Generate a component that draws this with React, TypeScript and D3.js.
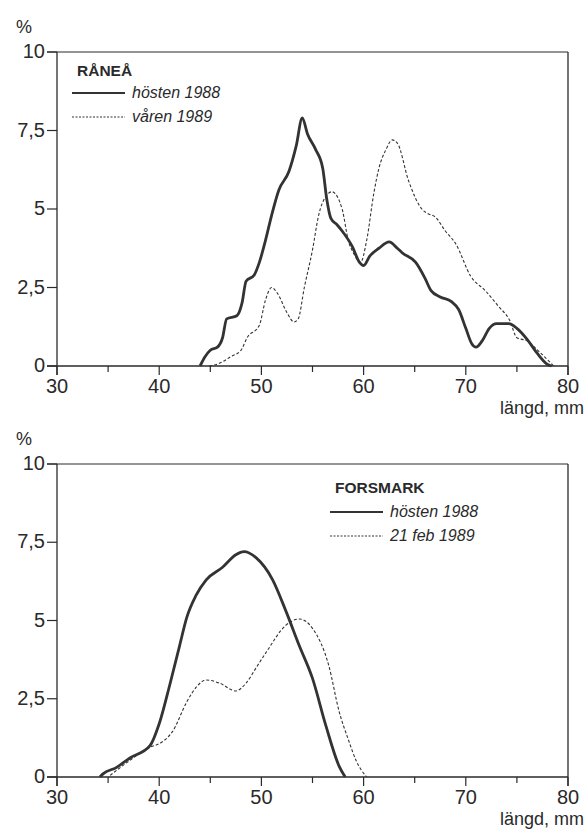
import React from "react";
import * as d3 from "d3";

// ---------- DATA ----------
const xTicks = [30, 40, 50, 60, 70, 80];
const xMinorTicks = [35, 45, 55, 65, 75];
const yTicks = [0, 2.5, 5, 7.5, 10];
const yTickLabels = ["0", "2,5", "5", "7,5", "10"];

// Råneå, hösten 1988 (solid)
const raneaHostX = [44.0, 44.5, 45.0, 45.7, 46.2, 46.6, 47.6, 48.1, 48.5, 49.3, 49.8, 50.4, 51.0, 51.7, 52.7, 53.4, 54.0, 54.5, 55.3, 56.0, 56.4, 56.8, 57.4, 57.9, 58.9, 59.6, 60.0, 60.6, 61.5, 62.5, 63.3, 63.8, 65.1, 66.0, 66.6, 67.5, 68.6, 69.3, 70.0, 70.6, 71.0, 71.6, 72.3, 73.0, 74.2, 75.0, 76.0, 77.0, 78.0, 78.4];
const raneaHostY = [0, 0.3, 0.5, 0.6, 0.9, 1.5, 1.6, 2.0, 2.7, 2.9, 3.3, 4.0, 4.8, 5.6, 6.2, 7.0, 7.9, 7.4, 6.9, 6.3, 5.3, 4.7, 4.5, 4.3, 3.8, 3.3, 3.2, 3.5, 3.75, 3.95, 3.75, 3.6, 3.3, 2.8, 2.4, 2.2, 2.05, 1.8, 1.2, 0.7, 0.6, 0.8, 1.2, 1.35, 1.35, 1.2, 0.85, 0.4, 0.05, 0];

// Råneå, våren 1989 (dashed)
const raneaVarX = [44.9, 46.0, 47.0, 48.0, 48.6, 49.8, 50.4, 51.0, 51.6, 52.5, 53.2, 53.6, 54.2, 55.0, 55.6, 56.3, 56.9, 57.9, 58.5, 59.0, 59.7, 60.3, 61.0, 61.5, 62.2, 62.8, 63.3, 64.4, 65.7, 66.3, 67.0, 68.0, 69.0, 70.5, 71.9, 73.2, 74.3, 75.0, 76.0, 77.2, 78.6];
const raneaVarY = [0, 0.1, 0.3, 0.5, 0.9, 1.3, 2.1, 2.5, 2.3, 1.7, 1.4, 1.5, 2.5, 3.7, 4.8, 5.4, 5.55, 5.0, 4.0, 3.6, 3.3, 4.0, 5.5, 6.3, 6.9, 7.2, 7.1, 5.9, 5.0, 4.85, 4.75, 4.3, 3.9, 2.85, 2.4, 1.9, 1.45, 0.9, 0.8, 0.45, 0];

// Forsmark, hösten 1988 (solid)
const forsHostX = [34.2, 34.5, 35.8, 37.1, 39.1, 40.0, 41.0, 42.0, 42.7, 43.6, 44.6, 46.2, 47.5, 48.3, 49.5, 51.1, 52.4, 53.7, 55.0, 56.3, 57.6, 58.2];
const forsHostY = [0, 0.1, 0.3, 0.6, 1.0, 1.7, 2.9, 4.2, 5.1, 5.8, 6.3, 6.7, 7.1, 7.2, 7.0, 6.3, 5.3, 4.2, 3.15, 1.65, 0.35, 0];

// Forsmark, 21 feb 1989 (dashed)
const forsFebX = [35.2, 37.0, 39.1, 40.2, 41.3, 42.7, 43.7, 44.6, 45.9, 47.5, 48.5, 49.5, 50.5, 52.4, 53.7, 55.0, 56.6, 57.6, 58.5, 59.3, 60.3];
const forsFebY = [0.05, 0.5, 0.95, 1.1, 1.45, 2.4, 2.9, 3.1, 3.0, 2.75, 3.0, 3.5, 4.0, 4.85, 5.05, 4.75, 3.55, 2.1, 1.2, 0.5, 0];

const panels = [
  {
    title: "RÅNEÅ",
    solidX: raneaHostX, solidY: raneaHostY, solidLabel: "hösten 1988",
    dashX: raneaVarX, dashY: raneaVarY, dashLabel: "våren 1989",
  },
  {
    title: "FORSMARK",
    solidX: forsHostX, solidY: forsHostY, solidLabel: "hösten 1988",
    dashX: forsFebX, dashY: forsFebY, dashLabel: "21 feb 1989",
  },
];

// ---------- LAYOUT ----------
const W = 588;
const H = 837;
const X0 = 57;
const X1 = 568;
const layout = [
  { yTop: 52, yBot: 366, legX: 72, legTitleY: 76, legY1: 93, legY2: 117 },
  { yTop: 464, yBot: 777, legX: 330, legTitleY: 493, legY1: 512, legY2: 536 },
];
const FONT = "'Liberation Sans', Arial, Helvetica, sans-serif";
const INK = "#2a2a2a";

function Panel({ p, l }: { p: (typeof panels)[number]; l: (typeof layout)[number] }) {
  const x = d3.scaleLinear().domain([30, 80]).range([X0, X1]);
  const y = d3.scaleLinear().domain([0, 10]).range([l.yBot, l.yTop]);
  const line = d3
    .line<[number, number]>()
    .x((d) => x(d[0]))
    .y((d) => y(d[1]))
    .curve(d3.curveMonotoneX);
  const solid = line(p.solidX.map((v, i) => [v, p.solidY[i]] as [number, number])) || "";
  const dashed = line(p.dashX.map((v, i) => [v, p.dashY[i]] as [number, number])) || "";

  return (
    <g fontFamily={FONT} fill={INK}>
      {/* frame */}
      <line x1={X0 - 10} x2={X1} y1={y(10)} y2={y(10)} stroke={INK} strokeWidth={1.2} />
      <line x1={X0} x2={X0} y1={y(10)} y2={y(0) + 9} stroke={INK} strokeWidth={1.3} />
      <line x1={X1} x2={X1} y1={y(10)} y2={y(0) + 9} stroke={INK} strokeWidth={1.3} />
      <line x1={X0 - 10} x2={X1} y1={y(0)} y2={y(0)} stroke={INK} strokeWidth={1.3} />
      {/* y ticks */}
      {yTicks.map((t, i) => (
        <g key={"y" + t}>
          <line x1={X0 - 10} x2={X0} y1={y(t)} y2={y(t)} stroke={INK} strokeWidth={1.2} />
          <text x={X0 - 12} y={y(t)} dy="0.3em" textAnchor="end" fontSize={20}>
            {yTickLabels[i]}
          </text>
        </g>
      ))}
      <text x={24} y={y(10) - 19} textAnchor="middle" fontSize={18}>%</text>
      {/* x ticks */}
      {xTicks.map((t) => (
        <g key={"x" + t}>
          <line x1={x(t)} x2={x(t)} y1={y(0)} y2={y(0) + 9} stroke={INK} strokeWidth={1.2} />
          <text x={x(t)} y={y(0) + 27} textAnchor="middle" fontSize={20}>{t}</text>
        </g>
      ))}
      {xMinorTicks.map((t) => (
        <line key={"m" + t} x1={x(t)} x2={x(t)} y1={y(0)} y2={y(0) + 6} stroke={INK} strokeWidth={1.2} />
      ))}
      <text x={584} y={y(0) + 48} textAnchor="end" fontSize={18}>längd, mm</text>
      {/* curves */}
      <path d={dashed} fill="none" stroke="#333" strokeWidth={1.1} strokeDasharray="3,2" />
      <path d={solid} fill="none" stroke="#333" strokeWidth={2.8} strokeLinejoin="round" />
      {/* legend */}
      <text x={l.legX + 5} y={l.legTitleY} fontSize={15.5} fontWeight="bold">{p.title}</text>
      <line x1={l.legX} x2={l.legX + 53} y1={l.legY1} y2={l.legY1} stroke="#333" strokeWidth={2} />
      <text x={l.legX + 60} y={l.legY1 + 5} fontSize={16} fontStyle="italic">{p.solidLabel}</text>
      <line x1={l.legX} x2={l.legX + 53} y1={l.legY2} y2={l.legY2} stroke="#333" strokeWidth={1} strokeDasharray="2,1.5" />
      <text x={l.legX + 60} y={l.legY2 + 5} fontSize={16} fontStyle="italic">{p.dashLabel}</text>
    </g>
  );
}

export default function App() {
  return (
    <svg width={W} height={H} viewBox={`0 0 ${W} ${H}`} style={{ position: "absolute", left: 0, top: 0, background: "#fff" }}>
      <rect x={0} y={0} width={W} height={H} fill="#fff" />
      {panels.map((p, i) => (
        <Panel key={p.title} p={p} l={layout[i]} />
      ))}
    </svg>
  );
}
